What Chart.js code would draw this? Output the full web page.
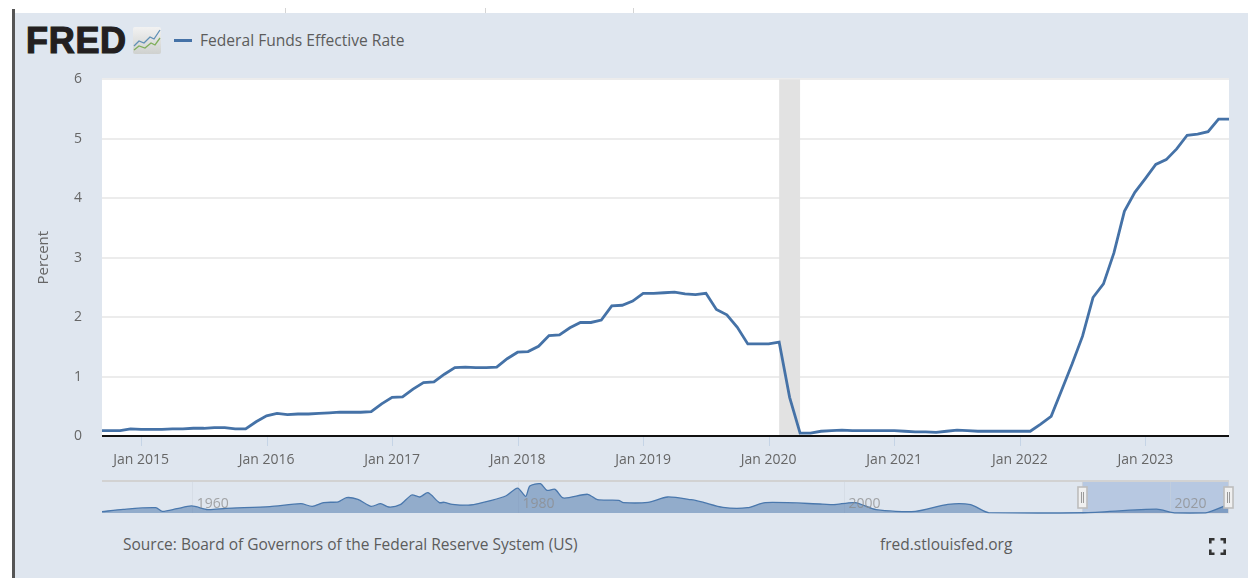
<!DOCTYPE html>
<html><head><meta charset="utf-8">
<script src="https://cdn.jsdelivr.net/npm/chart.js@4"></script>
<style>
html,body{margin:0;padding:0;background:#fff;width:1248px;height:578px;overflow:hidden;font-family:"Open Sans",sans-serif}
#panel{position:absolute;left:14px;top:13px;width:1234px;height:565px;background:#dfe6ef}
#rule{position:absolute;left:12px;top:9px;width:2.5px;height:569px;background:#555}
.nick{position:absolute;top:8px;width:1px;height:5px;background:#d4d4d4}
.t{position:absolute;color:#5c5c5c;white-space:nowrap}
#main{position:absolute;left:14px;top:51px}
#nav{position:absolute;left:90px;top:470px}
</style></head><body>
<div class="nick" style="left:285px"></div><div class="nick" style="left:485px"></div><div class="nick" style="left:633px"></div>
<div id="panel"></div><div id="rule"></div>
<div class="t" id="logo" style="left:26px;top:21px;font:900 36px/40px 'Liberation Sans',sans-serif;color:#231f20;letter-spacing:0.7px;-webkit-text-stroke:1.2px #231f20">FRED</div>
<svg style="position:absolute;left:133px;top:27px" width="28" height="27" viewBox="0 0 28 27">
<defs><linearGradient id="g" x1="0" y1="0" x2="0" y2="1"><stop offset="0" stop-color="#f2f2f2"/><stop offset="1" stop-color="#cfd1cf"/></linearGradient></defs>
<rect width="28" height="27" rx="2" fill="url(#g)"/>
<polyline points="1,19 6,14 11,16 17,10 21,12 27,3" fill="none" stroke="#5f8fb5" stroke-width="1.3"/>
<polyline points="1,23 6,19 12,21 18,16 22,18 27,11" fill="none" stroke="#7fae5a" stroke-width="1.3"/>
</svg>
<div style="position:absolute;left:174px;top:39px;width:18px;height:2.5px;background:#4572a7"></div>
<div class="t" style="left:200px;top:30px;font-size:15.6px;line-height:20px">Federal Funds Effective Rate</div>
<div class="t" style="left:123px;top:534px;font-size:15.5px;line-height:20px">Source: Board of Governors of the Federal Reserve System (US)</div>
<div class="t" style="left:880px;top:534px;font-size:15.5px;line-height:20px">fred.stlouisfed.org</div>
<svg style="position:absolute;left:1209px;top:538px" width="17" height="17" viewBox="0 0 17 17" fill="none" stroke="#333" stroke-width="2.6">
<path d="M1.3 5.5V1.3H5.5M11.5 1.3H15.7V5.5M15.7 11.5V15.7H11.5M5.5 15.7H1.3V11.5"/></svg>
<canvas id="main" width="1234" height="425" style="width:1234px;height:425px"></canvas>
<canvas id="nav" width="1158" height="50" style="width:1158px;height:50px"></canvas>
<script>
// Monthly federal funds rate, Sep 2014 - Sep 2023; x = months since Jan 2015
const rate2014=[0.09,0.09,0.09,0.12];
const rate2015=[0.11,0.11,0.11,0.12,0.12,0.13,0.13,0.14,0.14,0.12,0.12,0.24];
const rate2016=[0.34,0.38,0.36,0.37,0.37,0.38,0.39,0.40,0.40,0.40,0.41,0.54];
const rate2017=[0.65,0.66,0.79,0.90,0.91,1.04,1.15,1.16,1.15,1.15,1.16,1.30];
const rate2018=[1.41,1.42,1.51,1.69,1.70,1.82,1.91,1.91,1.95,2.19,2.20,2.27];
const rate2019=[2.40,2.40,2.41,2.42,2.39,2.38,2.40,2.13,2.04,1.83,1.55,1.55];
const rate2020=[1.55,1.58,0.65,0.05,0.05,0.08,0.09,0.10,0.09,0.09,0.09,0.09];
const rate2021=[0.09,0.08,0.07,0.07,0.06,0.08,0.10,0.09,0.08,0.08,0.08,0.08];
const rate2022=[0.08,0.08,0.20,0.33,0.77,1.21,1.68,2.33,2.56,3.08,3.78,4.10];
const rate2023=[4.33,4.57,4.65,4.83,5.06,5.08,5.12,5.33,5.33];
const rateValues=[].concat(rate2014,rate2015,rate2016,rate2017,rate2018,rate2019,rate2020,rate2021,rate2022,rate2023);
const firstMonth=-4;
const tickMonths=[0,12,24,36,48,60,72,84,96];
const tickLabels=['Jan 2015','Jan 2016','Jan 2017','Jan 2018','Jan 2019','Jan 2020','Jan 2021','Jan 2022','Jan 2023'];
const yTicks=[0,1,2,3,4,5,6];
const recession=[61,63]; // Feb 2020 - Apr 2020
const seriesName='Federal Funds Effective Rate';
const axisTitle='Percent';

// Navigator: long-run history read from the overview strip
const navYears=[1954.5,1955.8,1957.8,1958.2,1959.1,1960,1961,1962.1,1964.8,1966.7,1967.4,1968.1,1969,1969.5,1970.2,1971,1971.6,1972.1,1972.8,1973.5,1974,1974.5,1975.2,1975.5,1976,1977.1,1978.4,1979.3,1980.0,1980.5,1980.75,1981.4,1981.8,1982.3,1982.8,1984.3,1984.9,1986.2,1986.5,1988,1989.2,1990.65,1991.3,1992.6,1994.1,1995.2,1998.7,1999.4,2000.7,2002,2004.4,2006.4,2007.8,2008.9,2014.7,2019.2,2020.3,2022.2,2023.6];
const navValues=[0.8,2.3,3.3,1.0,2.7,4.4,2.1,2.9,4.0,5.8,4.2,6.5,7.0,9.6,8.5,4.2,5.8,3.75,5.2,11.25,10.0,12.7,6.5,6.7,5.4,5.0,7.9,10.8,15.6,10.4,16.9,18.3,14.2,14.8,9.4,11.7,8.3,7.9,6.5,6.7,10,8.3,6.9,3.5,3.3,6.5,5.6,5.2,6.5,2.1,1.0,5.4,5.2,0.2,0.15,2.4,0.1,0.1,5.33];
const navTickYears=[1960,1980,2000,2020];
const navSelection=[2014.66,2023.62];

const ink='#666';
const bandPlugin={id:'band',beforeDatasetsDraw(c){
  const {ctx,chartArea:a,scales:{x}}=c;
  const l=x.getPixelForValue(recession[0]),r=x.getPixelForValue(recession[1]);
  ctx.save();ctx.fillStyle='#e2e2e2';ctx.fillRect(l,a.top,r-l,a.bottom-a.top);ctx.restore();
}};
const baseLine={id:'baseLine',afterDatasetsDraw(c){
  const {ctx,chartArea:a,scales:{x,y}}=c;
  ctx.save();ctx.strokeStyle='#111';ctx.lineWidth=2;ctx.beginPath();
  ctx.moveTo(a.left,y.getPixelForValue(0));ctx.lineTo(a.right,y.getPixelForValue(0));ctx.stroke();
  ctx.strokeStyle='#c5d4e6';ctx.lineWidth=1;ctx.beginPath();
  tickMonths.forEach(m=>{const p=Math.round(x.getPixelForValue(m))+.5;ctx.moveTo(p,a.bottom+1);ctx.lineTo(p,a.bottom+10);});
  ctx.stroke();ctx.restore();
}};
const whiteBg={id:'whiteBg',beforeDraw(c){const {ctx,chartArea:a}=c;ctx.save();ctx.fillStyle='#fff';ctx.fillRect(a.left,a.top,a.right-a.left,a.bottom-a.top);ctx.restore();}};

new Chart(document.getElementById('main'),{
  type:'line',
  data:{datasets:[{label:seriesName,data:rateValues.map((v,i)=>({x:firstMonth+i,y:v})),
    borderColor:'#4572a7',borderWidth:2.8,pointRadius:0,tension:0,clip:true}]},
  plugins:[whiteBg,bandPlugin,baseLine],
  options:{responsive:false,animation:false,
    layout:{padding:{left:21,right:19,top:0,bottom:0}},
    plugins:{legend:{display:false},tooltip:{enabled:false}},
    scales:{
      x:{type:'linear',min:-3.73,max:104,
        afterBuildTicks(s){s.ticks=tickMonths.map(v=>({value:v}));},
        grid:{display:false},border:{display:false},
        afterFit(s){s.height=40;},
        ticks:{autoSkip:false,maxRotation:0,padding:8,color:ink,font:{family:'Open Sans',size:14},
          callback:v=>tickLabels[tickMonths.indexOf(v)]}},
      y:{min:0,max:6,
        afterBuildTicks(s){s.ticks=yTicks.map(v=>({value:v}));},
        afterFit(s){s.width=67;},
        grid:{color:'#ececec',lineWidth:2,drawTicks:false},border:{display:false},
        title:{display:true,text:axisTitle,color:ink,font:{family:'Open Sans',size:15},padding:{top:0,bottom:0}},
        ticks:{color:ink,padding:20,font:{family:'Open Sans',size:14}}}
    }}
});

const navPlugin={id:'navDeco',
  beforeDatasetsDraw(c){
    const {ctx,chartArea:a,scales:{x}}=c;
    ctx.save();
    const l=x.getPixelForValue(navSelection[0]),r=x.getPixelForValue(navSelection[1]);
    ctx.fillStyle='#b7c8e1';ctx.fillRect(l,a.top,r-l,a.bottom-a.top);
    ctx.strokeStyle='rgba(205,208,214,0.8)';ctx.lineWidth=1;ctx.strokeRect(l,a.top,r-l,a.bottom-a.top);
    ctx.fillStyle='#d2d2d2';ctx.fillRect(a.left,a.top-1,a.right-a.left,2);
    ctx.strokeStyle='rgba(205,210,220,0.45)';ctx.lineWidth=1;ctx.beginPath();
    navTickYears.forEach(t=>{const p=Math.round(x.getPixelForValue(t))+.5;ctx.moveTo(p,a.top);ctx.lineTo(p,a.bottom);});
    ctx.stroke();ctx.restore();
  },
  afterDatasetsDraw(c){
    const {ctx,chartArea:a,scales:{x}}=c;
    ctx.save();
    ctx.fillStyle='rgba(140,140,140,0.75)';ctx.font='14px "Open Sans"';ctx.textAlign='left';ctx.textBaseline='middle';
    navTickYears.forEach(t=>ctx.fillText(String(t),x.getPixelForValue(t)+5,a.top+23));
    navSelection.forEach(t=>{
      const p=x.getPixelForValue(t);
      ctx.fillStyle='#f0f0f0';ctx.strokeStyle='#bdbdbd';ctx.lineWidth=1.6;
      ctx.fillRect(p-4.5,a.top+6,9,21);ctx.strokeRect(p-4.5,a.top+6,9,21);
      ctx.strokeStyle='#999';ctx.lineWidth=1;ctx.beginPath();
      ctx.moveTo(p-1,a.top+11);ctx.lineTo(p-1,a.top+22);ctx.moveTo(p+1,a.top+11);ctx.lineTo(p+1,a.top+22);ctx.stroke();
    });
    ctx.restore();
  }};
new Chart(document.getElementById('nav'),{
  type:'line',
  data:{datasets:[{data:navYears.map((v,i)=>({x:v,y:navValues[i]})),
    borderColor:'#4a78ad',borderWidth:1.3,backgroundColor:'rgba(69,114,167,0.5)',fill:'origin',pointRadius:0,tension:0.25,clip:false}]},
  plugins:[navPlugin],
  options:{responsive:false,animation:false,
    layout:{padding:{left:12,right:19,top:11,bottom:7}},
    plugins:{legend:{display:false},tooltip:{enabled:false}},
    scales:{
      x:{type:'linear',min:1954.5,max:2023.65,display:false},
      y:{min:0,max:20,display:false}
    }}
});
</script>
</body></html>
